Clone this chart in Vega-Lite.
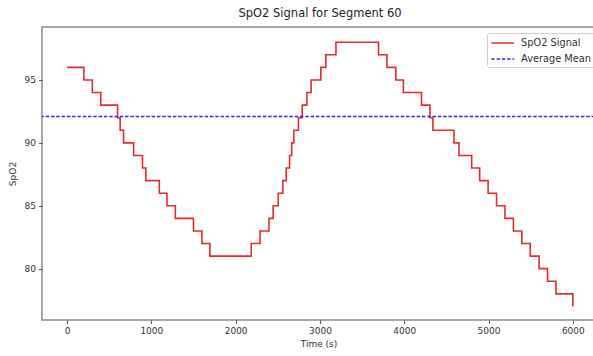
{
  "$schema": "https://vega.github.io/schema/vega-lite/v6.json",
  "width": 553,
  "height": 293,
  "autosize": "none",
  "padding": {"left": 42, "top": 27, "right": 0, "bottom": 36},
  "background": "white",
  "title": {"text": "SpO2 Signal for Segment 60", "fontSize": 11.5, "font": "DejaVu Sans", "fontWeight": "normal", "color": "#222222", "offset": 8, "anchor": "middle", "dx": 1.5},
  "config": {
    "view": {"stroke": "#8c8c8c", "strokeWidth": 1.5},
    "axis": {"grid": false, "domain": false, "tickColor": "#555555", "tickSize": 3.5, "labelFont": "DejaVu Sans", "labelFontSize": 9, "labelColor": "#333333", "titleFont": "DejaVu Sans", "titleFontSize": 9, "titleFontWeight": "normal", "titleColor": "#333333"},
    "legend": {"orient": "none", "legendX": 445, "legendY": 6, "symbolType": "M-1,0H3", "symbolSize": 132, "symbolStrokeWidth": 1.6, "labelFont": "DejaVu Sans", "labelFontSize": 9.8, "labelColor": "#333333", "labelOffset": 17, "padding": 3, "strokeColor": "#d0d0d0", "fillColor": "white", "cornerRadius": 2, "rowPadding": 4}
  },
  "datasets": {
    "signal": [
      {"time": 0, "spo2": 96, "series": "SpO2 Signal"},
      {"time": 200, "spo2": 95, "series": "SpO2 Signal"},
      {"time": 300, "spo2": 94, "series": "SpO2 Signal"},
      {"time": 400, "spo2": 93, "series": "SpO2 Signal"},
      {"time": 600, "spo2": 92, "series": "SpO2 Signal"},
      {"time": 630, "spo2": 91, "series": "SpO2 Signal"},
      {"time": 670, "spo2": 90, "series": "SpO2 Signal"},
      {"time": 790, "spo2": 89, "series": "SpO2 Signal"},
      {"time": 895, "spo2": 88, "series": "SpO2 Signal"},
      {"time": 935, "spo2": 87, "series": "SpO2 Signal"},
      {"time": 1095, "spo2": 86, "series": "SpO2 Signal"},
      {"time": 1185, "spo2": 85, "series": "SpO2 Signal"},
      {"time": 1285, "spo2": 84, "series": "SpO2 Signal"},
      {"time": 1500, "spo2": 83, "series": "SpO2 Signal"},
      {"time": 1600, "spo2": 82, "series": "SpO2 Signal"},
      {"time": 1695, "spo2": 81, "series": "SpO2 Signal"},
      {"time": 2185, "spo2": 82, "series": "SpO2 Signal"},
      {"time": 2290, "spo2": 83, "series": "SpO2 Signal"},
      {"time": 2395, "spo2": 84, "series": "SpO2 Signal"},
      {"time": 2445, "spo2": 85, "series": "SpO2 Signal"},
      {"time": 2505, "spo2": 86, "series": "SpO2 Signal"},
      {"time": 2560, "spo2": 87, "series": "SpO2 Signal"},
      {"time": 2600, "spo2": 88, "series": "SpO2 Signal"},
      {"time": 2640, "spo2": 89, "series": "SpO2 Signal"},
      {"time": 2665, "spo2": 90, "series": "SpO2 Signal"},
      {"time": 2690, "spo2": 91, "series": "SpO2 Signal"},
      {"time": 2745, "spo2": 92, "series": "SpO2 Signal"},
      {"time": 2790, "spo2": 93, "series": "SpO2 Signal"},
      {"time": 2845, "spo2": 94, "series": "SpO2 Signal"},
      {"time": 2895, "spo2": 95, "series": "SpO2 Signal"},
      {"time": 3010, "spo2": 96, "series": "SpO2 Signal"},
      {"time": 3070, "spo2": 97, "series": "SpO2 Signal"},
      {"time": 3190, "spo2": 98, "series": "SpO2 Signal"},
      {"time": 3695, "spo2": 97, "series": "SpO2 Signal"},
      {"time": 3795, "spo2": 96, "series": "SpO2 Signal"},
      {"time": 3900, "spo2": 95, "series": "SpO2 Signal"},
      {"time": 3990, "spo2": 94, "series": "SpO2 Signal"},
      {"time": 4205, "spo2": 93, "series": "SpO2 Signal"},
      {"time": 4305, "spo2": 92, "series": "SpO2 Signal"},
      {"time": 4340, "spo2": 91, "series": "SpO2 Signal"},
      {"time": 4590, "spo2": 90, "series": "SpO2 Signal"},
      {"time": 4650, "spo2": 89, "series": "SpO2 Signal"},
      {"time": 4800, "spo2": 88, "series": "SpO2 Signal"},
      {"time": 4895, "spo2": 87, "series": "SpO2 Signal"},
      {"time": 4995, "spo2": 86, "series": "SpO2 Signal"},
      {"time": 5095, "spo2": 85, "series": "SpO2 Signal"},
      {"time": 5195, "spo2": 84, "series": "SpO2 Signal"},
      {"time": 5295, "spo2": 83, "series": "SpO2 Signal"},
      {"time": 5395, "spo2": 82, "series": "SpO2 Signal"},
      {"time": 5495, "spo2": 81, "series": "SpO2 Signal"},
      {"time": 5600, "spo2": 80, "series": "SpO2 Signal"},
      {"time": 5700, "spo2": 79, "series": "SpO2 Signal"},
      {"time": 5800, "spo2": 78, "series": "SpO2 Signal"},
      {"time": 6000, "spo2": 77, "series": "SpO2 Signal"}
    ],
    "mean": [
      {"spo2": 92.1, "series": "Average Mean"}
    ]
  },
  "layer": [
    {
      "data": {"name": "signal"},
      "mark": {"type": "line", "interpolate": "step-after", "strokeWidth": 1.6},
      "encoding": {
        "x": {"field": "time", "type": "quantitative", "scale": {"domain": [-297, 6263], "nice": false, "zero": false}, "axis": {"values": [0, 1000, 2000, 3000, 4000, 5000, 6000], "format": "d", "title": "Time (s)", "labelPadding": 3, "titlePadding": 4}},
        "y": {"field": "spo2", "type": "quantitative", "scale": {"domain": [75.92, 99.21], "nice": false, "zero": false}, "axis": {"values": [80, 85, 90, 95], "title": "SpO2", "labelPadding": 3, "titlePadding": 7}},
        "color": {"field": "series", "type": "nominal", "scale": {"domain": ["SpO2 Signal", "Average Mean"], "range": ["#e32b2e", "#2e2ee0"]}, "legend": {"title": null}},
        "strokeDash": {"field": "series", "type": "nominal", "scale": {"domain": ["SpO2 Signal", "Average Mean"], "range": [[1, 0], [3.5, 1.8]]}, "legend": {"title": null}}
      }
    },
    {
      "data": {"name": "mean"},
      "mark": {"type": "rule", "strokeWidth": 1.6},
      "encoding": {
        "y": {"field": "spo2", "type": "quantitative"},
        "color": {"field": "series", "type": "nominal"},
        "strokeDash": {"field": "series", "type": "nominal"}
      }
    }
  ]
}
